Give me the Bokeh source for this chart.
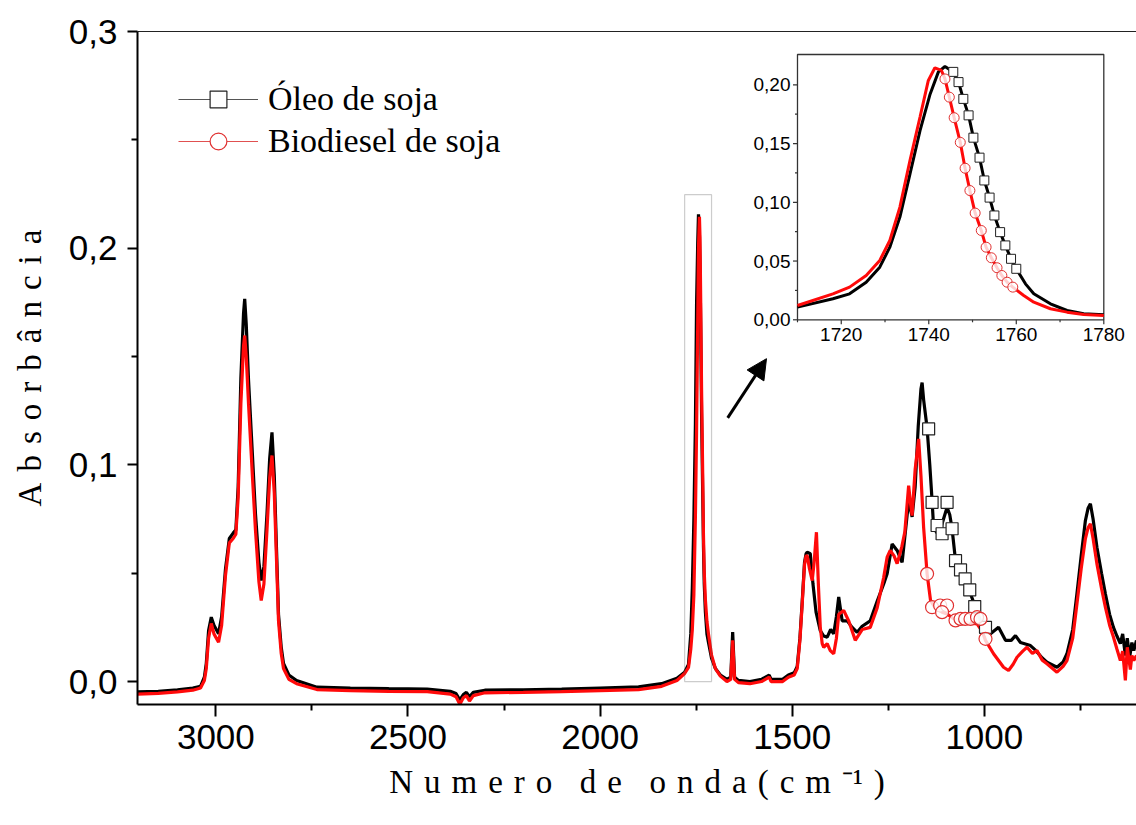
from bokeh.plotting import figure
from bokeh.models import (Range1d, FixedTicker, LinearAxis, Legend, LegendItem,
                          Arrow, NormalHead, BoxAnnotation)
from bokeh.embed import file_html
from bokeh.resources import INLINE
from bokeh.core.properties import value

# ---------------- data ----------------
oleo_x = [3204, 3150, 3100, 3060, 3040, 3030, 3025, 3019, 3012, 3005, 2993, 2985, 2975, 2965, 2955, 2948,
          2942, 2935, 2928, 2925, 2921, 2915, 2905, 2897, 2888, 2882, 2875, 2867, 2860, 2854, 2848, 2842,
          2837, 2830, 2824, 2810, 2790, 2737, 2650, 2550, 2450, 2390, 2375, 2365, 2356, 2348, 2340, 2330,
          2300, 2200, 2100, 2000, 1900, 1840, 1800, 1780, 1770, 1764, 1760, 1756, 1752, 1749, 1746, 1744,
          1742, 1740, 1738, 1736, 1733, 1731, 1729, 1726, 1722, 1718, 1710, 1700, 1687, 1670, 1660, 1655,
          1650, 1640, 1610, 1580, 1560, 1555, 1540, 1525, 1510, 1495, 1487, 1480, 1474, 1468, 1464, 1461,
          1453, 1446, 1438, 1427, 1418, 1409, 1400, 1392, 1385, 1379, 1370, 1357, 1344, 1331, 1318, 1297,
          1279, 1262, 1253, 1240, 1227, 1214, 1205, 1197, 1188, 1180, 1172, 1165, 1162, 1158, 1149, 1142,
          1136, 1132, 1125, 1119, 1108, 1097, 1090, 1084, 1075, 1063, 1050, 1041, 1023, 1010, 1002, 984,
          963, 945, 930, 919, 906, 880, 867, 850, 837, 811, 795, 785, 770, 759, 748, 737, 730, 724, 717,
          707, 695, 685, 674, 664, 655, 646, 640, 633, 628, 622, 616, 611, 604]
oleo_y = [-0.0048, -0.0045, -0.0038, -0.0030, -0.0022, 0.0020, 0.0083, 0.0235, 0.0297, 0.0260, 0.0221,
          0.0300, 0.0520, 0.0660, 0.0685, 0.0700, 0.0900, 0.1400, 0.1700, 0.1766, 0.1650, 0.1390, 0.1050,
          0.0775, 0.0550, 0.0466, 0.0530, 0.0775, 0.1030, 0.1150, 0.0950, 0.0600, 0.0310, 0.0160, 0.0083,
          0.0030, 0.0005, -0.0026, -0.0030, -0.0033, -0.0035, -0.0045, -0.0055, -0.0085, -0.0060, -0.0050,
          -0.0070, -0.0050, -0.0040, -0.0038, -0.0035, -0.0030, -0.0025, -0.0010, 0.0015, 0.0043, 0.0079,
          0.0221, 0.0434, 0.0746, 0.1186, 0.1740, 0.2023, 0.2156, 0.2110, 0.1920, 0.1610, 0.1240, 0.0870,
          0.0620, 0.0450, 0.0320, 0.0220, 0.0180, 0.0108, 0.0060, 0.0030, 0.0010, 0.0020, 0.0228, 0.0020,
          0.0005, 0.0000, 0.0010, 0.0030, 0.0010, 0.0010, 0.0010, 0.0030, 0.0040, 0.0070, 0.0200, 0.0370,
          0.0550, 0.0590, 0.0597, 0.0590, 0.0450, 0.0320, 0.0235, 0.0210, 0.0205, 0.0240, 0.0220, 0.0300,
          0.0390, 0.0280, 0.0280, 0.0250, 0.0227, 0.0255, 0.0280, 0.0370, 0.0450, 0.0497, 0.0635, 0.0605,
          0.0550, 0.0700, 0.0835, 0.0760, 0.0900, 0.1180, 0.1350, 0.1380, 0.1300, 0.1170, 0.1000, 0.0835,
          0.0710, 0.0690, 0.0680, 0.0740, 0.0804, 0.0770, 0.0705, 0.0558, 0.0510, 0.0475, 0.0428, 0.0343,
          0.0280, 0.0250, 0.0220, 0.0250, 0.0190, 0.0190, 0.0212, 0.0180, 0.0166, 0.0145, 0.0110, 0.0089,
          0.0066, 0.0090, 0.0128, 0.0240, 0.0405, 0.0580, 0.0743, 0.0800, 0.0820, 0.0750, 0.0620, 0.0500,
          0.0405, 0.0310, 0.0250, 0.0210, 0.0175, 0.0220, 0.0120, 0.0200, 0.0110, 0.0180, 0.0143, 0.0190]

biod_x = [3204, 3150, 3100, 3060, 3040, 3030, 3025, 3019, 3012, 3005, 2993, 2985, 2975, 2965, 2955, 2948,
          2942, 2935, 2928, 2925, 2921, 2915, 2905, 2897, 2888, 2882, 2875, 2867, 2860, 2854, 2848, 2842,
          2837, 2830, 2824, 2810, 2790, 2737, 2650, 2550, 2450, 2390, 2375, 2365, 2356, 2348, 2340, 2330,
          2300, 2200, 2100, 2000, 1900, 1840, 1800, 1780, 1770, 1764, 1760, 1756, 1752, 1749, 1746, 1744,
          1741.5, 1740, 1738, 1736, 1733, 1731, 1729, 1726, 1722, 1718, 1710, 1700, 1687, 1670, 1660, 1655,
          1650, 1640, 1610, 1580, 1560, 1555, 1540, 1525, 1510, 1495, 1487, 1480, 1474, 1468, 1464, 1461,
          1455, 1448, 1443, 1437, 1432, 1427, 1422, 1418, 1409, 1401, 1392, 1385, 1379, 1366, 1353, 1336,
          1318, 1297, 1279, 1262, 1253, 1245, 1235, 1227, 1215, 1207, 1197, 1192, 1188, 1180, 1171, 1165,
          1158, 1149, 1140, 1128, 1110, 1097, 1080, 1062, 1040, 1019, 1005, 997, 976, 950, 937, 925, 915,
          900, 889, 875, 863, 850, 837, 811, 795, 785, 770, 759, 748, 737, 730, 724, 717, 707, 695, 685,
          674, 664, 655, 646, 640, 633, 628, 620, 616, 611, 604]
biod_y = [-0.0058, -0.0055, -0.0048, -0.0040, -0.0030, 0.0005, 0.0060, 0.0200, 0.0268, 0.0220, 0.0181,
          0.0260, 0.0490, 0.0640, 0.0660, 0.0680, 0.0850, 0.1280, 0.1550, 0.1597, 0.1500, 0.1280, 0.0950,
          0.0700, 0.0460, 0.0374, 0.0450, 0.0700, 0.0940, 0.1043, 0.0870, 0.0550, 0.0280, 0.0130, 0.0060,
          0.0010, -0.0010, -0.0037, -0.0042, -0.0045, -0.0047, -0.0058, -0.0070, -0.0105, -0.0075, -0.0065,
          -0.0090, -0.0065, -0.0052, -0.0050, -0.0047, -0.0042, -0.0037, -0.0022, 0.0005, 0.0037, 0.0065,
          0.0150, 0.0240, 0.0400, 0.0760, 0.1150, 0.1650, 0.2000, 0.2145, 0.2050, 0.1725, 0.1356, 0.0960,
          0.0675, 0.0505, 0.0377, 0.0278, 0.0220, 0.0122, 0.0060, 0.0025, 0.0000, 0.0010, 0.0190, 0.0010,
          -0.0005, -0.0010, 0.0000, 0.0020, 0.0000, 0.0000, 0.0000, 0.0020, 0.0030, 0.0060, 0.0190, 0.0360,
          0.0540, 0.0580, 0.0580, 0.0520, 0.0466, 0.0550, 0.0689, 0.0450, 0.0250, 0.0175, 0.0158, 0.0175,
          0.0143, 0.0128, 0.0200, 0.0310, 0.0328, 0.0280, 0.0190, 0.0240, 0.0250, 0.0340, 0.0480, 0.0574,
          0.0605, 0.0580, 0.0544, 0.0620, 0.0690, 0.0904, 0.0820, 0.0766, 0.0980, 0.1120, 0.0950, 0.0710,
          0.0497, 0.0374, 0.0340, 0.0320, 0.0312, 0.0290, 0.0280, 0.0270, 0.0266, 0.0230, 0.0190, 0.0128,
          0.0066, 0.0051, 0.0080, 0.0112, 0.0140, 0.0158, 0.0130, 0.0143, 0.0100, 0.0082, 0.0043, 0.0070,
          0.0097, 0.0200, 0.0359, 0.0520, 0.0660, 0.0710, 0.0728, 0.0660, 0.0543, 0.0430, 0.0343, 0.0260,
          0.0205, 0.0150, 0.0097, 0.0140, 0.0005, 0.0158, 0.0055, 0.0120, 0.0097, 0.0120]

# marker points on the main spectrum
oleo_mk_x = [1145, 1136, 1097, 1123, 1110, 1084, 1075, 1062, 1050, 1038, 1025, 997]
oleo_mk_y = [0.1166, 0.0827, 0.0827, 0.0720, 0.0682, 0.0705, 0.0558, 0.0515, 0.0474, 0.0423, 0.0346, 0.0250]
biod_mk_x = [1149, 1136, 1115, 1097, 1110, 1075, 1062, 1050, 1036, 1019, 1010, 997]
biod_mk_y = [0.0497, 0.0343, 0.0351, 0.0351, 0.0320, 0.0282, 0.0289, 0.0289, 0.0289, 0.0297, 0.0289, 0.0197]

# inset (zoom of the C=O band)
ins_oleo_x = [1710, 1718.1, 1721.9, 1725.7, 1728.8, 1731.1, 1733.4, 1735.7, 1738, 1740.3, 1742.2, 1743.7,
              1745.6, 1746.8, 1747.9, 1749.1, 1750.2, 1751.6, 1752.7, 1753.9, 1755, 1756.3, 1757.5, 1758.8,
              1760, 1762.1, 1764, 1767.8, 1771.6, 1775.4, 1780]
ins_oleo_y = [0.0108, 0.0179, 0.0221, 0.0320, 0.0448, 0.0618, 0.0874, 0.1240, 0.1610, 0.1920, 0.2110,
              0.2156, 0.2110, 0.2023, 0.1880, 0.1740, 0.1550, 0.1380, 0.1186, 0.1040, 0.0888, 0.0746,
              0.0633, 0.0519, 0.0434, 0.0306, 0.0221, 0.0136, 0.0079, 0.0051, 0.0043]
ins_biod_x = [1710, 1718.1, 1721.9, 1725.7, 1728.8, 1731.1, 1733.4, 1735.7, 1738, 1739.9, 1741.4, 1742.9,
              1743.7, 1744.7, 1745.8, 1747.2, 1748.3, 1749.4, 1750.6, 1752, 1753.1, 1754.3, 1755.6, 1756.7,
              1757.9, 1759.2, 1761.7, 1764, 1767.8, 1771.6, 1775.4, 1780]
ins_biod_y = [0.0122, 0.0221, 0.0278, 0.0377, 0.0505, 0.0675, 0.0959, 0.1356, 0.1725, 0.2037, 0.2145,
              0.2122, 0.2050, 0.1895, 0.1720, 0.1510, 0.1290, 0.1100, 0.0908, 0.0760, 0.0618, 0.0528,
              0.0443, 0.0377, 0.0320, 0.0278, 0.0207, 0.0150, 0.0094, 0.0065, 0.0045, 0.0037]
ins_oleo_mk_x = [1745.6, 1746.8, 1747.9, 1749.1, 1750.2, 1751.6, 1752.7, 1753.9, 1755, 1756.3, 1757.5, 1758.8, 1760]
ins_oleo_mk_y = [0.2110, 0.2023, 0.1880, 0.1740, 0.1550, 0.1380, 0.1186, 0.1040, 0.0888, 0.0746, 0.0633, 0.0519, 0.0434]
ins_biod_mk_x = [1743.7, 1744.7, 1745.8, 1747.2, 1748.3, 1749.4, 1750.6, 1752, 1753.1, 1754.3, 1755.6, 1756.7, 1757.9, 1759.2]
ins_biod_mk_y = [0.2050, 0.1895, 0.1720, 0.1510, 0.1290, 0.1100, 0.0908, 0.0760, 0.0618, 0.0528, 0.0443, 0.0377, 0.0320, 0.0278]

# ticks
x_major = [3000, 2500, 2000, 1500, 1000]
x_minor = [2750, 2250, 1750, 1250, 750]
x_labels = ["3000", "2500", "2000", "1500", "1000"]
y_major = [0.0, 0.1, 0.2, 0.3]
y_minor = [0.05, 0.15, 0.25]
y_labels = ["0,0", "0,1", "0,2", "0,3"]
ins_x_major = [1720, 1740, 1760, 1780]
ins_x_minor = [1710, 1730, 1750, 1770]
ins_x_labels = ["1720", "1740", "1760", "1780"]
ins_y_major = [0.0, 0.05, 0.10, 0.15, 0.20]
ins_y_minor = [0.025, 0.075, 0.125, 0.175]
ins_y_labels = ["0,00", "0,05", "0,10", "0,15", "0,20"]
ins_x_lim = (1710, 1780)
ins_y_lim = (0.0, 0.2258)
box_top = 0.2247

labels = ["Óleo de soja", "Biodiesel de soja"]

# ---------------- figure ----------------
RED = "#ff0a0a"
NAN = float("nan")
p = figure(width=1136, height=825, x_range=Range1d(3204, 604), y_range=Range1d(-0.0106, 0.3),
           output_backend="svg", toolbar_location=None,
           min_border_left=137, min_border_right=0, min_border_top=31, min_border_bottom=121)
p.outline_line_color = None
p.xgrid.visible = False
p.ygrid.visible = False
p.background_fill_color = "white"
p.border_fill_color = "white"

SP = "\u2004"
WG = "\u2002\u2004"
p.xaxis.axis_label = SP.join("Numero") + WG + SP.join("de") + WG + SP.join("onda") + SP + SP.join("(cm") + SP + "\u207b\u00b9" + SP + ")"
p.yaxis.axis_label = SP.join("Absorbância")

for ax in (p.xaxis[0], p.yaxis[0]):
    ax.axis_line_width = 2
    ax.axis_line_color = "black"
    ax.major_tick_line_width = 2
    ax.minor_tick_line_width = 2
    ax.major_tick_in = 0
    ax.minor_tick_in = 0
    ax.major_label_text_font = "Liberation Sans"
    ax.major_label_text_color = "black"
    ax.axis_label_text_font = "Liberation Serif"
    ax.axis_label_text_font_style = "normal"
    ax.axis_label_text_font_size = "33px"
    ax.axis_label_text_color = "black"

p.xaxis.ticker = FixedTicker(ticks=x_major, minor_ticks=x_minor)
p.xaxis.major_label_overrides = dict(zip(x_major, x_labels))
p.xaxis.major_tick_out = 12
p.xaxis.minor_tick_out = 6
p.xaxis.major_label_standoff = 8
p.xaxis.major_label_text_font_size = "35px"
p.xaxis.axis_label_standoff = 12

p.yaxis.ticker = FixedTicker(ticks=y_major, minor_ticks=y_minor)
p.yaxis.major_label_overrides = dict(zip(y_major, y_labels))
p.yaxis.major_tick_out = 10
p.yaxis.minor_tick_out = 6
p.yaxis.major_label_standoff = 10
p.yaxis.major_label_text_font_size = "35px"
p.yaxis.axis_label_standoff = 18

top = LinearAxis(ticker=FixedTicker(ticks=[]), major_label_text_font_size="0px",
                 major_tick_out=0, minor_tick_out=0, axis_line_color="#222222", axis_line_width=1)
p.add_layout(top, "above")

# spectra
p.line(oleo_x, oleo_y, line_color="black", line_width=3.2)
p.line(biod_x, biod_y, line_color=RED, line_width=3.2)
p.scatter(oleo_mk_x, oleo_mk_y, marker="square", size=12, fill_color="white", line_color="#222222", line_width=1.2)
p.scatter(biod_mk_x, biod_mk_y, marker="circle", size=13, fill_color="white", fill_alpha=0.8,
          line_color="#e03030", line_width=1.2)

# box around the C=O band and arrow
p.add_layout(BoxAnnotation(left=ins_x_lim[1], right=ins_x_lim[0], bottom=0, top=box_top,
                           fill_color=None, line_color="#555555", line_width=1.2))
p.add_layout(Arrow(x_start=1668, y_start=0.1217, x_end=1567, y_end=0.149, line_width=3, line_color="black",
                   end=NormalHead(size=20, fill_color="black", line_color="black")))

# legend (proxy renderers holding no visible data)
lo_line = p.line(x=[NAN], y=[NAN], line_color="#555555", line_width=1.2)
lo_mk = p.scatter(x=[NAN], y=[NAN], marker="square", size=12, fill_color="white", line_color="#222222", line_width=1.2)
lb_line = p.line(x=[NAN], y=[NAN], line_color="#e05050", line_width=1.2)
lb_mk = p.scatter(x=[NAN], y=[NAN], marker="circle", size=13, fill_color="white", line_color="#e03030", line_width=1.2)
legend = Legend(items=[LegendItem(label=labels[0], renderers=[lo_line, lo_mk]),
                       LegendItem(label=labels[1], renderers=[lb_line, lb_mk])],
                location=(41, 542), background_fill_alpha=0, border_line_color=None,
                label_text_font="Liberation Serif", label_text_font_size="34px", label_text_color="black",
                glyph_width=80, glyph_height=42, label_height=42, label_standoff=10,
                padding=0, spacing=0, margin=0)
p.add_layout(legend)

# ---------------- inset ----------------
ins = p.subplot(x_source=Range1d(*ins_x_lim), y_source=Range1d(*ins_y_lim),
                x_target=Range1d(1486.3, 689.1), y_target=Range1d(0.16695, 0.28939))
ipx_x = 306.3 / (ins_x_lim[1] - ins_x_lim[0])
ipx_y = 265.3 / (ins_y_lim[1] - ins_y_lim[0])
ins.quad(left=ins_x_lim[0], right=ins_x_lim[1], bottom=ins_y_lim[0], top=ins_y_lim[1],
         fill_color="white", line_color="#333333", line_width=1.3)
ins.line(ins_oleo_x, ins_oleo_y, line_color="black", line_width=3)
ins.line(ins_biod_x, ins_biod_y, line_color=RED, line_width=3)
ins.scatter(ins_oleo_mk_x, ins_oleo_mk_y, marker="square", size=9, fill_color="white",
            line_color="#222222", line_width=1)
ins.scatter(ins_biod_mk_x, ins_biod_mk_y, marker="circle", size=10, fill_color="white", fill_alpha=0.8,
            line_color="#e03030", line_width=1)
# inset ticks
nx, nxm = len(ins_x_major), len(ins_x_minor)
ny, nym = len(ins_y_major), len(ins_y_minor)
y0 = ins_y_lim[0]
x0 = ins_x_lim[0]
ins.segment(x0=ins_x_major, y0=[y0] * nx, x1=ins_x_major, y1=[y0 - 4.5 / ipx_y] * nx, line_color="#333333", line_width=1.2)
ins.segment(x0=ins_x_minor, y0=[y0] * nxm, x1=ins_x_minor, y1=[y0 - 2.5 / ipx_y] * nxm, line_color="#333333", line_width=1.2)
ins.segment(x0=[x0] * ny, y0=ins_y_major, x1=[x0 - 4.5 / ipx_x] * ny, y1=ins_y_major, line_color="#333333", line_width=1.2)
ins.segment(x0=[x0] * nym, y0=ins_y_minor, x1=[x0 - 2.5 / ipx_x] * nym, y1=ins_y_minor, line_color="#333333", line_width=1.2)
ins.text(x=ins_x_major, y=[y0] * nx, text=ins_x_labels, text_align="center", text_baseline="top",
         y_offset=8, text_font=value("Liberation Sans"), text_font_size="19px", text_color="black")
ins.text(x=[x0] * ny, y=ins_y_major, text=ins_y_labels, text_align="right", text_baseline="middle",
         x_offset=-7, text_font=value("Liberation Sans"), text_font_size="19px", text_color="black")

open("out.html", "w").write(file_html(p, INLINE))
